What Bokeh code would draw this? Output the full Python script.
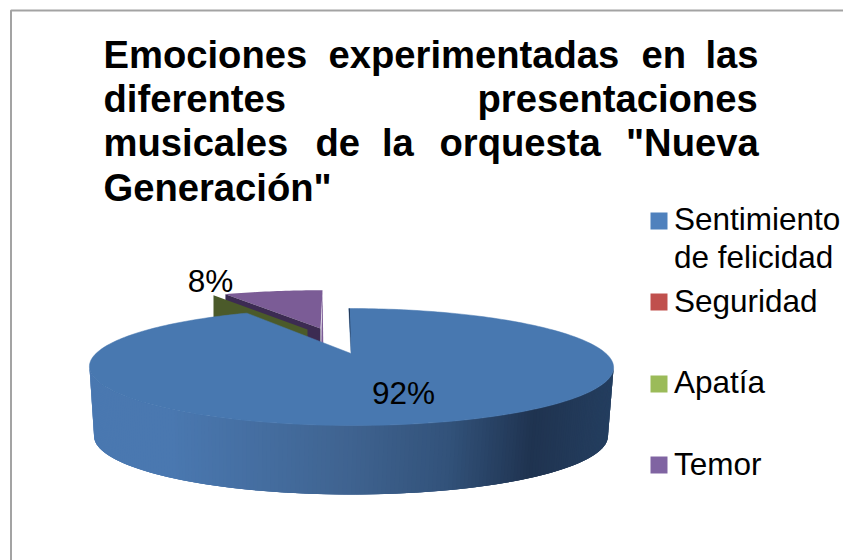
import math
from bokeh.plotting import figure
from bokeh.models import Range1d
from bokeh.core.properties import value
from bokeh.embed import file_html
from bokeh.resources import INLINE

# --- data -------------------------------------------------------------
categories = ["Sentimiento de felicidad", "Seguridad", "Apatía", "Temor"]
values = [92, 0, 0, 8]
point_labels = ["92%", "", "", "8%"]
title_lines = [
    ["Emociones", "experimentadas", "en", "las"],
    ["diferentes", "presentaciones"],
    ["musicales", "de", "la", "orquesta", "\"Nueva"],
    ["Generación\""],
]
legend_lines = [["Sentimiento", "de felicidad"], ["Seguridad"], ["Apatía"], ["Temor"]]
legend_colors = ["#4F81BD", "#C0504D", "#9BBB59", "#8064A2"]

# --- layout -----------------------------------------------------------
W, H = 843, 560
FONT = value("Liberation Sans")
TITLE_PX, BODY_PX = 38.2, 31.5
BASE_FIX = 0.38  # svg text sits this many em below the requested baseline
CX, CY, RX, TOP, BOTTOM = 350.5, 353, 255, 45, 72
K = (BOTTOM - TOP) / (BOTTOM + TOP)
A = TOP * (1 + K)
DEPTH = 70
BASE_RX = 250
SKEW = 2.2


def project(theta, rx=RX, cx=CX, cy=CY, sy=1.0, skew=SKEW):
    u, v = math.sin(theta), math.cos(theta)
    d = 1 + K * v
    return cx + rx * u / d - skew * v, cy - sy * A * v / d


total = sum(values)
starts, acc = [], 0
for val in values:
    starts.append(acc / total * 2 * math.pi)
    acc += val
main_end = starts[1]

p = figure(width=W, height=H, output_backend="svg", toolbar_location=None,
           x_range=Range1d(0, W), y_range=Range1d(H, 0), min_border=0,
           background_fill_color="white", border_fill_color="white")
p.axis.visible = False
p.grid.visible = False
p.outline_line_color = None

# chart border
p.line([10.5, 10.5, W], [H, 10, 10], line_color="#a3a3a3", line_width=2)

# exploded Temor slice: top face, cut wall
T_AX, T_AY, T_SX, T_SY = 322, 328, 0.95, 0.85
t_start = starts[3] - 2 * math.pi
arc = [project(t_start + (0 - t_start) * i / 24, RX * T_SX, T_AX, T_AY, T_SY, 0) for i in range(25)]
end_x, end_y = arc[-1]
p.patch([end_x, end_x + 1, T_AX - 2, T_AX - 2 + 1], [end_y, end_y + DEPTH, T_AY + DEPTH, T_AY],
        fill_color="#7b5c96", line_color=None)
p.patch([a[0] for a in arc] + [T_AX - 2], [a[1] for a in arc] + [T_AY],
        fill_color="#7b5c96", line_color=None)
rx0, ry0 = arc[0]
p.patch([rx0, T_AX - 2, T_AX - 2, rx0], [ry0, T_AY, T_AY + DEPTH, ry0 + DEPTH],
        fill_color="#3c2b52", line_color=None)

# zero-size Apatía slice: only its wall shows
G_AX, G_AY, G_SX, G_SY = 307, 329, 0.92, 0.85
gx, gy = project(starts[2] - 2 * math.pi, RX * G_SX, G_AX, G_AY, G_SY, 0)
p.patch([gx, G_AX, G_AX, gx], [gy, G_AY, G_AY + DEPTH, gy + DEPTH],
        fill_color="#4b5a2a", line_color=None)

# side wall of the main slice with a stepped gradient
stops = [(89, (74, 120, 176)), (170, (74, 120, 176)), (350, (63, 99, 144)), (450, (50, 82, 122)),
         (534, (31, 51, 80)), (612, (36, 62, 95))]


def shade(x):
    for (x0, c0), (x1, c1) in zip(stops, stops[1:]):
        if x <= x1:
            t = max(0.0, (x - x0) / (x1 - x0))
            return "#%02x%02x%02x" % tuple(round(a + (b - a) * t) for a, b in zip(c0, c1))
    return "#%02x%02x%02x" % stops[-1][1]


theta_r = math.acos(-K)
theta_l = 2 * math.pi - theta_r
N = 200
OVERLAP = 3
xs, ys, cols = [], [], []
for i in range(N):
    a = theta_l + (theta_r - theta_l) * i / N
    b = theta_l + (theta_r - theta_l) * min(i + OVERLAP, N) / N
    mid = theta_l + (theta_r - theta_l) * (i + 0.5) / N
    t0, t1 = project(a), project(b)
    b0 = project(a, BASE_RX, CX, CY + DEPTH - 1, 1.0, 0)
    b1 = project(b, BASE_RX, CX, CY + DEPTH - 1, 1.0, 0)
    xs.append([t0[0], t1[0], b1[0], b0[0]])
    ys.append([t0[1], t1[1], b1[1], b0[1]])
    cols.append(shade(project(mid)[0]))
p.patches(xs, ys, fill_color=cols, line_color=None)

# main slice top face
steps = 240
face = [project(main_end * i / steps) for i in range(steps + 1)]
p.patch([f[0] for f in face] + [CX], [f[1] for f in face] + [CY],
        fill_color="#4878b0", line_color="#4878b0", line_width=0.5)
r0 = face[0]
p.patch([r0[0], CX, r0[0] + 1], [r0[1], CY, r0[1]], fill_color="#1f3350", line_color=None)

# data labels
p.text([403, 210], [y - BASE_FIX * BODY_PX for y in (404, 292)],
       text=[point_labels[0], point_labels[3]], text_font=FONT,
       text_font_size=value(f"{BODY_PX}px"), text_color="black", text_align="center",
       text_baseline="alphabetic")

# title: each line justified word by word
title_x = [[103, 328, 641, 705], [103, 477], [103, 315, 381.5, 439, 625.5], [103]]
title_y = [69, 112.5, 157, 202]
for words, wx, wy in zip(title_lines, title_x, title_y):
    p.text(wx, [wy - BASE_FIX * TITLE_PX] * len(words), text=words, text_font=FONT,
           text_font_style="bold", text_font_size=value(f"{TITLE_PX}px"), text_color="black",
           text_align="left", text_baseline="alphabetic")

# legend
swatch_top = [212, 293, 375, 456]
legend_base = [[230, 268], [312.5], [393.5], [475]]
for lines, col, top, bases in zip(legend_lines, legend_colors, swatch_top, legend_base):
    p.quad(left=[650], right=[667], top=[top], bottom=[top + 17], fill_color=col, line_color=None)
    p.text([673.5] * len(lines), [b - BASE_FIX * BODY_PX for b in bases], text=lines, text_font=FONT,
           text_font_size=value(f"{BODY_PX}px"), text_color="black", text_align="left",
           text_baseline="alphabetic")

open("out.html", "w").write(file_html(p, INLINE))
